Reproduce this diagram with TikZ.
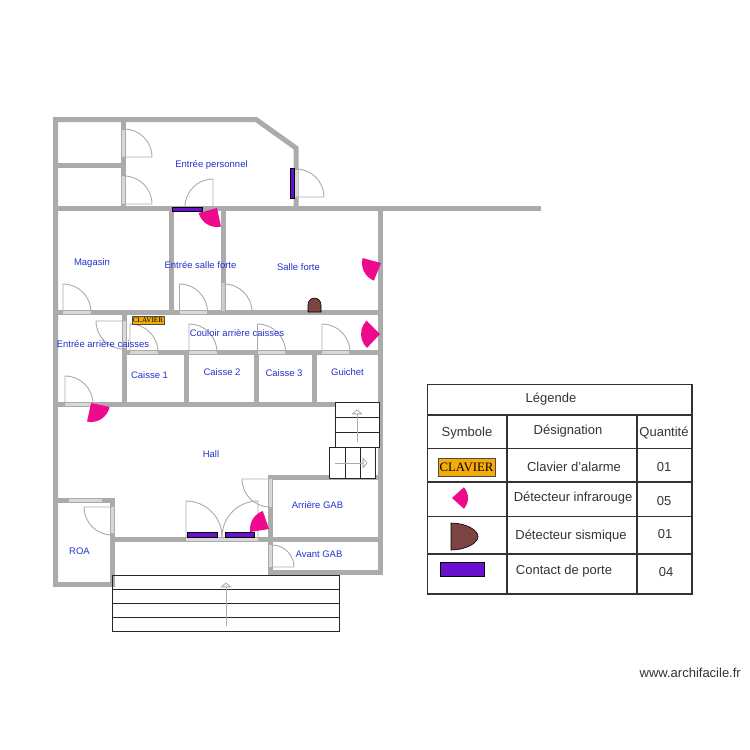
\documentclass[tikz,border=0pt]{standalone}
\usepackage{fontspec}
\setmainfont{Liberation Sans}
\newfontfamily\serifkey{Liberation Serif}
\definecolor{wallc}{HTML}{ABABAB}
\definecolor{sillc}{HTML}{D8D8D8}
\definecolor{doorc}{HTML}{ABABAB}
\definecolor{pinkc}{HTML}{EE0A8C}
\definecolor{purplec}{HTML}{6A10D0}
\definecolor{brownc}{HTML}{7D4343}
\definecolor{keyc}{HTML}{F5AC0A}
\definecolor{labelc}{HTML}{2233CC}
\definecolor{legc}{HTML}{333333}
\tikzset{
  wall/.style={draw=wallc,line width=5pt,line join=miter,line cap=rect},
  sill/.style={draw=sillc,line width=3pt},
  door/.style={draw=doorc,line width=0.9pt},
  stair/.style={draw=black!85,line width=0.8pt},
  stairarrow/.style={draw=wallc,line width=0.8pt},
  infra/.style={fill=pinkc},
  contact/.style={fill=purplec,draw=black,line width=0.6pt},
  seismic/.style={fill=brownc,draw=black,line width=0.6pt},
  keypad/.style={fill=keyc,draw=black!70,line width=0.4pt},
  roomlabel/.style={text=labelc,font=\fontsize{9.5}{11}\selectfont,inner sep=0pt,text height=6.8pt,text depth=0pt},
  legline/.style={draw=black!80,line width=1.2pt},
  legtext/.style={text=legc,font=\fontsize{13}{15}\selectfont,inner sep=0pt,text height=9.3pt,text depth=0pt},
}
\newcommand{\dooropen}[5]{\draw[door] (#1,#2) -- ++(#3:#5) arc (#3:#4:#5);}
\newcommand{\irsector}[4]{\fill[infra] (#1,#2) -- ++(#3:19) arc (#3:#4:19) -- cycle;}
\newcommand{\stairhead}[3]{\draw[stairarrow,fill=white] (#1,#2) -- +(#3+130:6) -- +(#3-130:6) -- cycle;}
\begin{document}
\begin{tikzpicture}[x=1pt,y=-1pt]
\useasboundingbox (0,0) rectangle (750,750);
% walls
\draw[wall] (55.5,584) -- (55.5,119.5) -- (256,119.5) -- (296,148) -- (296,208);
\draw[wall] (55.5,208) -- (538,208);
\draw[wall] (123.5,119.5) -- (123.5,208);
\draw[wall] (55.5,165) -- (123.5,165);
\draw[wall] (171,208) -- (171,312);
\draw[wall] (223,208) -- (223,312);
\draw[wall] (380,208) -- (380,572);
\draw[wall] (55.5,312) -- (380,312);
\draw[wall] (124,312) -- (124,404);
\draw[wall] (124,352) -- (380,352);
\draw[wall] (186,352) -- (186,404);
\draw[wall] (256,352) -- (256,404);
\draw[wall] (314,352) -- (314,404);
\draw[wall] (55.5,404) -- (335,404);
\draw[wall] (270,477) -- (380,477);
\draw[wall] (270,477) -- (270,572);
\draw[wall] (112,539) -- (380,539);
\draw[wall] (270,572) -- (380,572);
\draw[wall] (55.5,500) -- (112,500) -- (112,584) -- (55.5,584);
% sills
\foreach \xa/\ya/\xb/\yb in {123.5/130/123.5/157,123.5/176/123.5/204,296/170/296/197,
  63/312/91/312,180/312/207/312,223/283/223/311,124/321/124/348,130/352/158/352,
  189/352/217/352,257.5/352/285/352,322/352/349/352,65/404/93/404,270/479/270/507,
  186/539/258/539,112/507/112/533,69/500/102/500,270/545/270/567}
  \draw[sill] (\xa,\ya) -- (\xb,\yb);
% doors
\dooropen{124}{157}{0}{-90}{28}
\dooropen{124}{204}{0}{-90}{28}
\dooropen{213}{207}{-90}{-180}{28}
\dooropen{296}{197}{0}{-90}{28}
\dooropen{63}{312}{-90}{0}{28}
\dooropen{179.5}{312}{-90}{0}{28}
\dooropen{224}{312}{-90}{0}{28}
\dooropen{124}{321}{180}{90}{28}
\dooropen{130}{352}{-90}{0}{28}
\dooropen{189}{352}{-90}{0}{28}
\dooropen{257.5}{352}{-90}{0}{28}
\dooropen{322}{352}{-90}{0}{28}
\dooropen{65}{404}{-90}{0}{28}
\dooropen{270}{479}{180}{90}{28}
\dooropen{186}{537}{-90}{0}{36}
\dooropen{258}{537}{-90}{-180}{36}
\dooropen{112}{507}{180}{90}{28}
\dooropen{272}{567}{0}{-90}{22}
% stairs
\draw[stair,fill=white] (335,402) rectangle (379,447);
\draw[stair] (335,417) -- (379,417) (335,432) -- (379,432);
\draw[stair,fill=white] (329,447) rectangle (375,478);
\draw[stair] (345,447) -- (345,478) (360,447) -- (360,478);
\draw[stair] (112.5,575) rectangle (339.5,631.5);
\draw[stair] (112.5,589) -- (339.5,589) (112.5,603) -- (339.5,603) (112.5,617.5) -- (339.5,617.5);
\draw[stairarrow] (357,442) -- (357,412);
\stairhead{357}{410}{-90}
\draw[stairarrow] (335,463) -- (365,463);
\stairhead{367}{463}{0}
\draw[stairarrow] (226,625.5) -- (226,585);
\stairhead{226}{583}{-90}
% infrared detectors
\irsector{217}{208}{78}{165}
\irsector{381}{263}{112}{195}
\irsector{380}{334}{133}{225}
\irsector{91}{403}{12}{102}
\irsector{269}{529}{171}{251}
% door contacts
\draw[contact] (172,207) rectangle (202,211);
\draw[contact] (290,168) rectangle (294,198);
\draw[contact] (187,532) rectangle (217,537);
\draw[contact] (225,532) rectangle (254,537);
% seismic detector and keypad
\draw[seismic] (308,312) -- (308,305) arc (180:360:6.5 and 7) -- (321,312) -- cycle;
\path[keypad] (132,316) rectangle (164,324);
\node[inner sep=0pt,font=\serifkey\fontsize{7.2}{8}\selectfont] (kp) at (148,320) {CLAVIER};
% room labels
\node[roomlabel] (r1) at (211.5,164.5) {Entrée personnel};
\node[roomlabel] (r2) at (92,262) {Magasin};
\node[roomlabel] (r3) at (200.5,265) {Entrée salle forte};
\node[roomlabel] (r4) at (298.5,267.5) {Salle forte};
\node[roomlabel] (r5) at (237,333) {Couloir arrière caisses};
\node[roomlabel] (r6) at (103,344) {Entrée arrière caisses};
\node[roomlabel] (r7) at (149.5,375.5) {Caisse 1};
\node[roomlabel] (r8) at (222,372) {Caisse 2};
\node[roomlabel] (r9) at (284,373.5) {Caisse 3};
\node[roomlabel] (r10) at (347.5,372.5) {Guichet};
\node[roomlabel] (r11) at (211,454) {Hall};
\node[roomlabel] (r12) at (317.5,505.5) {Arrière GAB};
\node[roomlabel] (r13) at (319,554.5) {Avant GAB};
\node[roomlabel] (r14) at (79.5,551.5) {ROA};
% legend table
\draw[legline] (427.5,384.5) rectangle (692,594);
\draw[legline] (427.5,415) -- (692,415) (427.5,448.5) -- (692,448.5) (427.5,482) -- (692,482)
  (427.5,516.5) -- (692,516.5) (427.5,554) -- (692,554);
\draw[legline] (507,415) -- (507,594) (637,415) -- (637,594);
\node[legtext] (t1) at (551,398) {Légende};
\node[legtext] (t2) at (467,432) {Symbole};
\node[legtext] (t3) at (568,430) {Désignation};
\node[legtext] (t4) at (664,432) {Quantité};
\node[legtext] (t5) at (574,467) {Clavier d'alarme};
\node[legtext] (t6) at (664,467) {01};
\node[legtext] (t7) at (573,497) {Détecteur infrarouge};
\node[legtext] (t8) at (664,501) {05};
\node[legtext] (t9) at (571,535) {Détecteur sismique};
\node[legtext] (t10) at (665,534) {01};
\node[legtext] (t11) at (564,570) {Contact de porte};
\node[legtext] (t12) at (666,572) {04};
% legend symbols
\path[keypad] (438,458) rectangle (495,476);
\node[inner sep=0pt,font=\serifkey\fontsize{12.8}{14}\selectfont] (kl) at (466.5,467) {CLAVIER};
\fill[infra] (452,498) -- ++(-42:16) arc (-42:42:16) -- cycle;
\draw[seismic] (451,523) .. controls (466,523) and (478,530) .. (478,536.5) .. controls (478,543) and (466,550) .. (451,550) -- cycle;
\draw[contact] (440,562) rectangle (484,576);
\node[anchor=east,inner sep=0pt,text=legc,font=\fontsize{13}{15}\selectfont] (web) at (741,673) {www.archifacile.fr};
\end{tikzpicture}
\end{document}
